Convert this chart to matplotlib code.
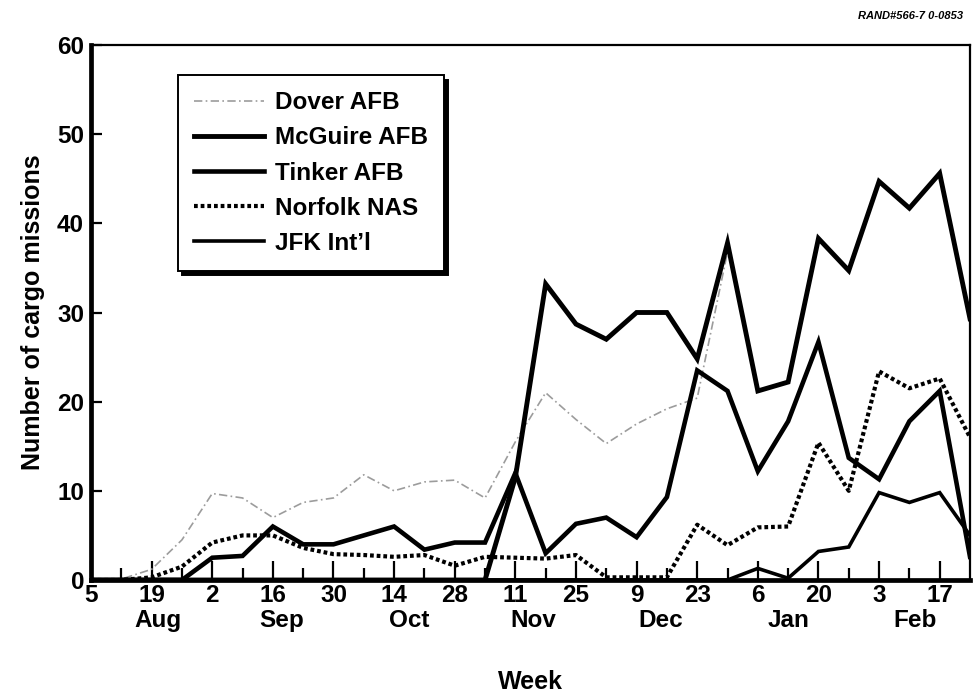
import numpy as np
import matplotlib
matplotlib.use("Agg")
import matplotlib.pyplot as plt
from matplotlib.ticker import FixedLocator

plt.rcParams['font.family'] = ['Liberation Sans', 'DejaVu Sans']
plt.rcParams['font.weight'] = 'bold'
plt.rcParams['axes.labelweight'] = 'bold'

# Weekly cargo missions, weeks counted from 5 Aug
weeks = np.arange(30)
dover = [0, 0.1, 1.2, 4.5, 9.7, 9.2, 7.0, 8.7, 9.2, 11.8,
         10.0, 11.0, 11.2, 9.2, 15.5, 21.0, 18.0, 15.3, 17.5, 19.2,
         20.4, 36.8, np.nan, np.nan, np.nan, np.nan, np.nan, np.nan, np.nan, np.nan]
mcguire = [0, 0, 0, 0, 0, 0, 0, 0, 0, 0,
           0, 0, 0, 0, 11.5, 33.2, 28.7, 27.0, 30.0, 30.0,
           24.8, 37.8, 21.2, 22.2, 38.3, 34.7, 44.7, 41.7, 45.6, 29.3]
tinker = [0, 0, 0, 0, 2.5, 2.7, 6.0, 4.0, 4.0, 5.0,
          6.0, 3.4, 4.2, 4.2, 12.0, 3.0, 6.3, 7.0, 4.8, 9.3,
          23.5, 21.2, 12.2, 17.8, 26.7, 13.7, 11.3, 17.8, 21.2, 2.6]
norfolk = [0, 0, 0.3, 1.5, 4.2, 5.0, 5.0, 3.6, 2.9, 2.8,
           2.6, 2.8, 1.6, 2.6, 2.5, 2.4, 2.8, 0.3, 0.3, 0.3,
           6.2, 3.9, 5.9, 6.0, 15.4, 10.0, 23.4, 21.5, 22.6, 16.0]
jfk = [0, 0, 0, 0, 0, 0, 0, 0, 0, 0,
       0, 0, 0, 0, 0, 0, 0, 0, 0, 0,
       0, 0, 1.3, 0.2, 3.2, 3.7, 9.8, 8.7, 9.8, 5.0]

day_labels = ['5', '19', '2', '16', '30', '14', '28', '11', '25', '9',
              '23', '6', '20', '3', '17']
months = ['Aug', 'Sep', 'Oct', 'Nov', 'Dec', 'Jan', 'Feb']
month_pos = [2.2, 6.3, 10.5, 14.6, 18.8, 23.0, 27.2]

FS = 17.5

fig = plt.figure(figsize=(9.74, 6.92), dpi=100)
ax = fig.add_axes([91 / 974, 1 - 580 / 692, 879 / 974, (580 - 45) / 692])

ax.plot(weeks, dover, color='#9c9c9c', lw=1.2, dashes=(5, 2, 1, 2),
        label='Dover AFB', zorder=2)
ax.plot(weeks, mcguire, color='black', lw=3.5, solid_joinstyle='miter',
        label='McGuire AFB', zorder=3)
ax.plot(weeks, tinker, color='black', lw=3.3, solid_joinstyle='miter',
        label='Tinker AFB', zorder=3)
ax.plot(weeks, norfolk, color='black', lw=3.0, dashes=(0.9, 0.7),
        label='Norfolk NAS', zorder=3)
ax.plot(weeks, jfk, color='black', lw=2.6, solid_joinstyle='miter',
        label="JFK Int\u2019l", zorder=3)

ax.set_xlim(0, 29)
ax.set_ylim(0, 60)

ax.xaxis.set_major_locator(FixedLocator(np.arange(0, 29, 2)))
ax.xaxis.set_minor_locator(FixedLocator(np.arange(1, 29, 1)))
ax.set_xticklabels(day_labels)
ax.set_yticks(np.arange(0, 61, 10))

ax.tick_params(axis='x', which='major', direction='in', length=14, width=1.6,
               pad=3, labelsize=FS)
ax.tick_params(axis='x', which='minor', direction='in', length=9, width=1.6)
ax.tick_params(axis='y', which='major', direction='in', length=8, width=1.6,
               pad=5, labelsize=FS)

for side in ('left', 'bottom'):
    ax.spines[side].set_linewidth(3.4)
for side in ('top', 'right'):
    ax.spines[side].set_linewidth(1.6)

for m, p in zip(months, month_pos):
    ax.annotate(m, xy=(p, 0), xycoords=('data', 'axes fraction'),
                xytext=(0, -21), textcoords='offset points',
                ha='center', va='top', fontsize=FS)

ax.set_xlabel('Week', fontsize=FS + 0.5, labelpad=45, fontweight='bold')
ax.set_ylabel('Number of cargo missions', fontsize=FS + 0.5, labelpad=9,
              fontweight='bold')

leg = ax.legend(loc='upper left', bbox_to_anchor=(0.099, 0.943),
                borderaxespad=0, fontsize=FS, handlelength=2.9,
                handletextpad=0.45, labelspacing=0.5, borderpad=0.65,
                fancybox=False, framealpha=1, edgecolor='black',
                shadow={'ox': 3, 'oy': -3, 'facecolor': 'black',
                        'edgecolor': 'black', 'alpha': 1})
leg.get_frame().set_linewidth(1.4)

fig.text(858 / 974, 1 - 16 / 692, 'RAND#566-7 0-0853', fontsize=8,
         fontweight='bold', fontstyle='italic', ha='left', va='center')

fig.savefig('out.png', dpi=100)
